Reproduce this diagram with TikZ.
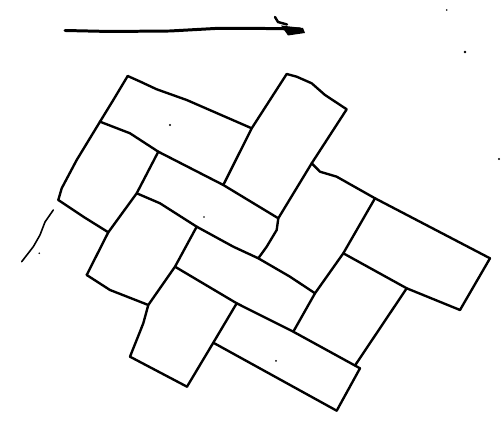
\documentclass[tikz,border=0pt]{standalone}
\begin{document}
\begin{tikzpicture}[x=0.02cm,y=-0.02cm,
  ink/.style={line width=1.35pt,line cap=round,line join=round},
  thinink/.style={line width=0.9pt,line cap=round,line join=round},
  speck/.style={fill=black}]
\useasboundingbox (0,0) rectangle (501,431);

% ---- direction arrow ----
\coordinate (arL) at (65,30.5);
\coordinate (arR) at (300,29);
\draw[line width=1.7pt,line cap=round] (arL) -- (110,31.5) -- (170,31) -- (215,28.5) -- (265,28.5) -- (arR);
\fill (281,25.5) -- (303,28) -- (305,33) -- (288,35.5) -- cycle;
\draw[line width=1.4pt,line cap=round] (275,17) -- (278,22) -- (287,24.5);

% ---- corner points of the woven strips ----
\coordinate (a1) at (127.7,76);
\coordinate (a2) at (251.7,128.3);
\coordinate (p)  at (100,121.7);
\coordinate (q)  at (158.3,151.7);
\coordinate (r)  at (223.3,185);
\coordinate (s)  at (278.3,218.3);
\coordinate (t)  at (286.7,74);
\coordinate (u)  at (346.7,109.3);
\coordinate (v)  at (311.7,163.3);
\coordinate (w)  at (58.3,200);
\coordinate (x1) at (108.3,232.3);
\coordinate (y1) at (136.7,193.3);
\coordinate (z)  at (196.7,226.7);
\coordinate (m)  at (258.3,258.3);
\coordinate (n)  at (86.7,275);
\coordinate (o)  at (148.3,305);
\coordinate (k)  at (175,266.7);
\coordinate (l)  at (315,293.3);
\coordinate (j)  at (236.7,303.3);
\coordinate (i)  at (293.3,331.7);
\coordinate (h)  at (130,356.7);
\coordinate (g)  at (187,386.7);
\coordinate (f)  at (213.3,342.7);
\coordinate (e)  at (360,368.3);
\coordinate (d)  at (336.7,410.7);
\coordinate (c)  at (375,198.3);
\coordinate (b)  at (490,258.3);
\coordinate (bb) at (460,310);
\coordinate (cc) at (343.3,253.3);
\coordinate (dd) at (406.7,288.3);
\coordinate (ee) at (355,365.5);

% ---- strip outlines ----
\draw[ink] (a1) -- (140,81.5) -- (156.7,89.3) -- (186.7,100) -- (a2);
\draw[ink] (a1) -- (113.3,100) -- (p);
\draw[ink] (p) -- (130,133.3) -- (q) -- (r) -- (s);
\draw[ink] (t) -- (a2) -- (r);
\draw[ink] (t) -- (296.7,76.7) -- (311.7,83.3) -- (325,95) -- (u) -- (v) -- (s) -- (276.7,230) -- (266.7,246.7) -- (m);
\draw[ink] (p) -- (76.7,160) -- (61.7,188.3) -- (w);
\draw[ink] (w) -- (83.3,216.7) -- (x1);
\draw[ink] (q) -- (y1) -- (x1) -- (n);
\draw[ink] (y1) -- (160,203.3) -- (z) -- (233.3,246.7) -- (m) -- (290,276.7) -- (l);
\draw[ink] (n) -- (110,290) -- (o);
\draw[ink] (z) -- (k) -- (o) -- (143.3,323.3) -- (h);
\draw[ink] (k) -- (j) -- (i) -- (e);
\draw[ink] (l) -- (i);
\draw[ink] (h) -- (g);
\draw[ink] (j) -- (f) -- (g);
\draw[ink] (f) -- (d);
\draw[ink] (e) -- (d);
\draw[ink] (v) -- (320,171.7) -- (336.7,176.7) -- (c) -- (b);
\draw[ink] (b) -- (bb);
\draw[ink] (cc) -- (dd) -- (bb);
\draw[ink] (c) -- (cc) -- (l);
\draw[ink] (dd) -- (ee);

% ---- loose pencil stroke and specks ----
\draw[thinink] (53.3,210) -- (45,222) -- (40,235) -- (33.3,246.7) -- (21.7,261.7);
\fill[speck] (39.3,253.3) circle (0.9);
\fill[speck] (170,125) circle (1.2);
\fill[speck] (204,217) circle (0.9);
\fill[speck] (276,361) circle (1);
\fill[speck] (446.7,10) circle (0.9);
\fill[speck] (465,52) circle (1.3);
\fill[speck] (499,159) circle (1.2);
\end{tikzpicture}
\end{document}
